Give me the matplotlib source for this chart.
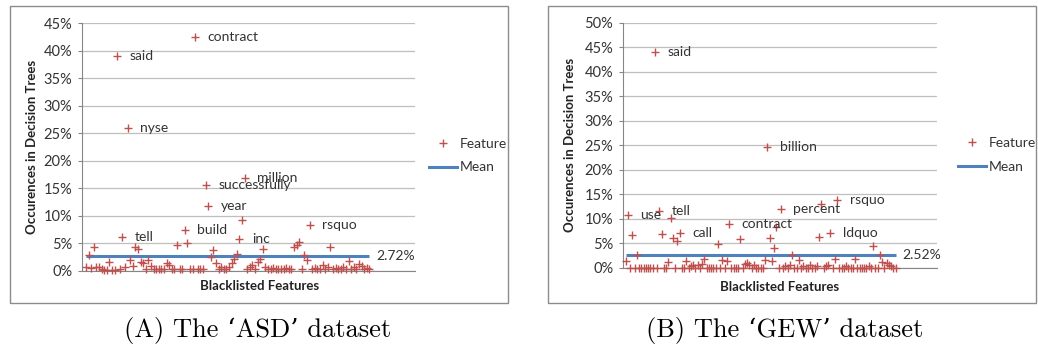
import numpy as np
import matplotlib.pyplot as plt
from matplotlib.lines import Line2D
from matplotlib.patches import Rectangle
from matplotlib.ticker import FuncFormatter

# ----------------------- Data ---------------------------
# share (%) of decision trees that use each blacklisted feature, in feature order
asd_values = [
    0.7, 2.9, 0.5, 4.3, 0.7, 0.6, 0.4, 0.2, 0.2, 1.6,
    0.2, 0.2, 39.0, 0.3, 6.2, 0.7, 26.0, 2.0, 0.8, 4.4,
    4.0, 1.6, 1.4, 0.3, 2.0, 0.8, 0.4, 0.3, 0.3, 0.3,
    0.3, 1.4, 1.0, 0.3, 0.3, 4.7, 0.3, 0.3, 7.4, 5.1,
    0.3, 0.3, 42.5, 0.3, 0.3, 0.3, 15.5, 11.7, 2.5, 3.7,
    1.4, 0.3, 0.7, 0.3, 0.3, 0.7, 1.4, 2.1, 3.0, 5.7,
    9.2, 16.8, 0.3, 0.7, 1.0, 0.3, 1.6, 2.2, 4.0, 0.7,
    0.3, 0.3, 0.5, 0.3, 0.3, 0.3, 0.3, 0.5, 0.3, 0.3,
    4.3, 4.7, 5.2, 0.3, 2.9, 2.0, 8.3, 0.3, 0.5, 0.3,
    0.3, 1.0, 0.3, 0.7, 4.3, 0.3, 0.5, 0.3, 0.3, 0.7,
    0.3, 1.8, 0.3, 0.7, 0.3, 1.3, 0.8, 0.3, 0.5, 0.3,
]
asd_label_idx = [12, 14, 16, 38, 42, 46, 47, 59, 61, 86]
asd_label_txt = ["said", "tell", "nyse", "build", "contract", "successfully",
                 "year", "inc", "million", "rsquo"]
asd_mean = 2.72

gew_values = [
    1.4, 10.8, 0.0, 6.7, 0.0, 2.5, 0.0, 0.0, 0.0, 0.0,
    0.0, 0.0, 0.0, 44.0, 0.0, 11.6, 6.8, 0.0, 0.0, 1.2,
    10.1, 6.0, 0.0, 5.5, 7.1, 0.0, 0.0, 1.4, 0.0, 0.3,
    0.5, 0.0, 0.5, 0.0, 0.8, 1.8, 0.0, 0.0, 0.0, 0.0,
    0.0, 4.8, 0.0, 1.6, 0.0, 1.4, 9.0, 0.0, 0.0, 0.0,
    0.0, 5.8, 0.0, 0.8, 1.0, 0.5, 0.0, 0.5, 0.0, 0.0,
    0.0, 0.0, 1.6, 24.7, 6.0, 1.4, 4.1, 8.4, 0.0, 11.9,
    0.0, 0.3, 0.0, 0.6, 2.6, 0.0, 0.0, 1.6, 0.0, 0.3,
    0.0, 0.0, 0.5, 0.0, 0.0, 0.3, 6.3, 13.0, 0.0, 0.3,
    0.6, 7.0, 0.0, 1.8, 13.8, 0.0, 0.0, 0.0, 0.3, 0.0,
    0.0, 0.0, 1.8, 0.0, 0.0, 0.0, 0.0, 0.0, 0.3, 0.0,
    4.5, 0.0, 0.0, 2.6, 1.2, 0.0, 0.9, 0.6, 0.3, 0.0,
    0.0,
]
gew_label_idx = [1, 13, 15, 24, 46, 63, 69, 91, 94]
gew_label_txt = ["use", "said", "tell", "call", "contract", "billion",
                 "percent", "ldquo", "rsquo"]
gew_mean = 2.52

# ----------------------- Styling ---------------------------
plt.rcParams['font.family'] = ['Lato', 'DejaVu Sans']
RED = '#c0504d'
BLUE = '#4f81bd'
GRID = '#bfbfbf'
AXIS = '#868686'
TEXT = '#333333'

W, H = 1038, 352
fig = plt.figure(figsize=(W / 100, H / 100), dpi=100)


def px_axes(left, right, top, bottom):
    return fig.add_axes([left / W, 1 - bottom / H, (right - left) / W, (bottom - top) / H])


def draw_panel(ax, vals, lab_idx, lab_txt, mean, ymax, xlim, ylab_x, xlab_xy, legend_xy):
    x = np.arange(1, len(vals) + 1)
    ax.plot(x, vals, ls='none', marker='+', ms=5.5, mew=1.0, color=RED,
            zorder=3, clip_on=False)
    ax.plot([x[0], x[-1]], [mean, mean], color=BLUE, lw=2.2, zorder=2,
            solid_capstyle='butt')
    ax.annotate(f"{mean:.2f}%", (x[-1], mean), xytext=(5, 0), textcoords='offset points',
                va='center', ha='left', fontsize=10, color=TEXT)
    for i, t in zip(lab_idx, lab_txt):
        ax.annotate(t, (x[i], vals[i]), xytext=(9, 0), textcoords='offset points',
                    va='center', ha='left', fontsize=10, color=TEXT)

    ax.set_xlim(*xlim)
    ax.set_ylim(0, ymax)
    ax.set_yticks(np.arange(0, ymax + 0.1, 5))
    ax.yaxis.set_major_formatter(FuncFormatter(lambda v, _: f"{v:.0f}%"))
    ax.grid(axis='y', color=GRID, lw=0.9)
    ax.set_axisbelow(True)
    for s in ('top', 'right'):
        ax.spines[s].set_visible(False)
    for s in ('left', 'bottom'):
        ax.spines[s].set_color(AXIS)
        ax.spines[s].set_linewidth(0.8)
    ax.tick_params(axis='y', length=3, width=0.8, color=AXIS, labelsize=10.5,
                   labelcolor=TEXT, pad=4)
    ax.tick_params(axis='x', bottom=False, labelbottom=False)

    ax.set_ylabel("Occurences in Decision Trees", fontweight='bold', fontsize=9.5,
                  color='#222222', va='center')
    ax.yaxis.set_label_coords(ylab_x, 0.5)
    ax.set_xlabel("Blacklisted Features", fontweight='bold', fontsize=9.5,
                  color='#222222', va='center')
    ax.xaxis.set_label_coords(*xlab_xy)

    handles = [Line2D([], [], ls='none', marker='+', ms=5.5, mew=1.0, color=RED),
               Line2D([], [], color=BLUE, lw=2.2)]
    ax.legend(handles, ["Feature", "Mean"], loc='center left',
              bbox_to_anchor=(legend_xy[0] / W, 1 - legend_xy[1] / H),
              bbox_transform=fig.transFigure, frameon=False, borderpad=0,
              borderaxespad=0, handlelength=2.0, handletextpad=0.2,
              labelspacing=0.85, fontsize=10, labelcolor=TEXT)


# ----------------------- Panels ---------------------------
ax1 = px_axes(82, 415, 23.3, 270.7)
draw_panel(ax1, asd_values, asd_label_idx, asd_label_txt, asd_mean, 45,
           (1 + (82 - 86) / 2.6, 1 + (415 - 86) / 2.6),
           (32 - 82) / 333, ((260 - 82) / 333, -(286 - 270.7) / 247.4),
           (429, 155.5))

ax2 = px_axes(623, 937, 22.7, 267.7)
draw_panel(ax2, gew_values, gew_label_idx, gew_label_txt, gew_mean, 50,
           (1 + (623 - 625.7) / 2.25, 1 + (937 - 625.7) / 2.25),
           (570 - 623) / 314, (0.5, -(287 - 267.7) / 245),
           (958, 155))

# chart borders
for left, right in [(10, 508), (548, 1036)]:
    fig.add_artist(Rectangle((left / W, 1 - 303 / H), (right - left) / W, 297 / H,
                             transform=fig.transFigure, fill=False, ec='#8c8c8c', lw=1.0))

# sub-figure captions
cap_font = ['cmr10', 'DejaVu Serif']
fig.text(258 / W, 1 - 331 / H, "(A) The \u2018ASD\u2019 dataset", ha='center', va='center',
         family=cap_font, fontsize=19)
fig.text(785 / W, 1 - 331 / H, "(B) The \u2018GEW\u2019 dataset", ha='center', va='center',
         family=cap_font, fontsize=19)

fig.savefig("out.png", dpi=100)
